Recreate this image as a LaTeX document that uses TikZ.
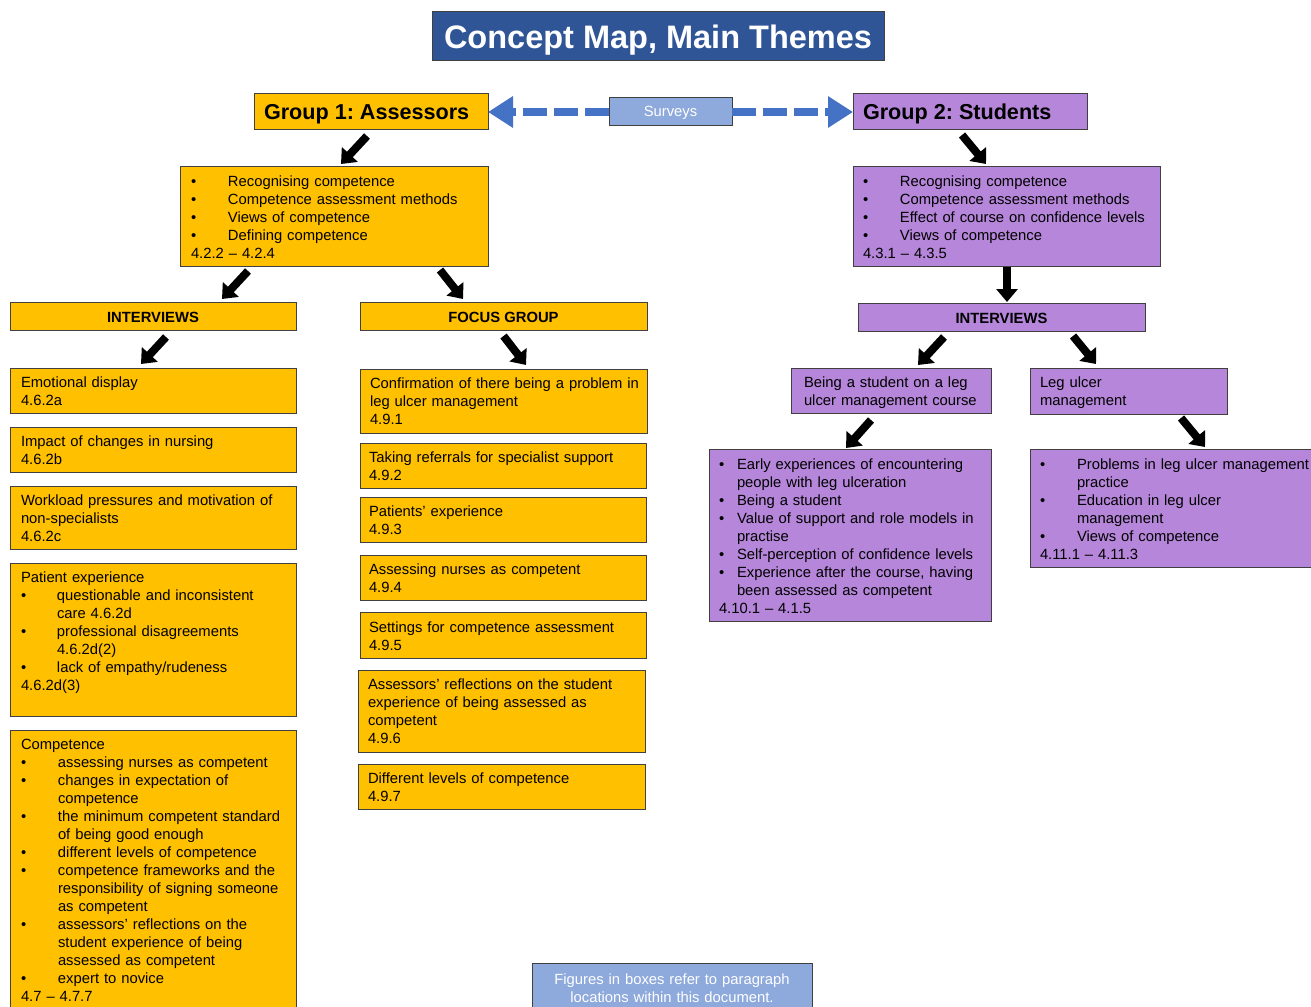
\documentclass[tikz,border=0pt]{standalone}
\usepackage{fontspec}
\setmainfont{Liberation Sans}
\usetikzlibrary{arrows.meta,calc}
\definecolor{gold}{HTML}{FFC000}
\definecolor{lilac}{HTML}{B586D9}
\definecolor{navy}{HTML}{2F5597}
\definecolor{sky}{HTML}{8EA9DB}
\definecolor{arrowblue}{HTML}{4472C4}
\definecolor{edgegray}{HTML}{404040}
\newcommand\bpt[1][37pt]{\makebox[#1][l]{•}}
\newcommand\ipt[1][37pt]{\hspace*{#1}}
\frenchspacing
\begin{document}
\frenchspacing
\begin{tikzpicture}[x=1pt,y=-1pt,
  box/.style={draw=edgegray, line width=1pt, anchor=north west, inner sep=0pt, outer sep=0pt},
  gbox/.style={box, fill=gold},
  pbox/.style={box, fill=lilac},
  bodyfont/.style={font={\fontsize{14.8pt}{18pt}\selectfont}},
  headfont/.style={font={\fontsize{21.6pt}{24pt}\selectfont\bfseries}},
  capfont/.style={font={\fontsize{14.8pt}{18pt}\selectfont\bfseries}},
  txt/.style={bodyfont, anchor=base west, inner sep=0pt, outer sep=0pt, text width=420pt, align=left},
  lbl/.style={inner sep=0pt, outer sep=0pt},
  barrow/.style={draw=black, line width=8pt, -{Triangle[length=13pt,width=21pt]}},
  dasharr/.style={draw=arrowblue, line width=8pt, dash pattern=on 24pt off 7pt, -{Triangle[length=25pt,width=30pt]}}
]
\useasboundingbox (0,0) rectangle (1311,1006);
\fill[white] (0,0) rectangle (1311,1006);

% title
\node[box, fill=navy, minimum width=452pt, minimum height=49pt] (title) at (432,12) {};
\node[lbl, anchor=base, text=white, font={\fontsize{32.5pt}{36pt}\selectfont\bfseries}] (titlet) at (658,49) {Concept Map, Main Themes};

% groups and surveys
\node[gbox, minimum width=234pt, minimum height=36pt] (g1) at (254,94) {};
\node[lbl, headfont, anchor=base west] (g1t) at (264,120) {Group 1: Assessors};
\node[pbox, minimum width=234pt, minimum height=36pt] (g2) at (853,94) {};
\node[lbl, headfont, anchor=base west] (g2t) at (863,120) {Group 2: Students};
\node[box, fill=sky, minimum width=123pt, minimum height=28pt] (sv) at (609,98) {};
\node[lbl, bodyfont, text=white, anchor=base] (svt) at (670.5,117) {Surveys};
\draw[dasharr] (sv.west) -- (g1.east);
\draw[dasharr] (sv.east) -- (g2.west);

% theme boxes
\node[gbox, minimum width=308pt, minimum height=100pt] (t1) at (180,166) {};
\node[txt] (t1t) at (191,186) {\bpt Recognising competence\\\bpt Competence assessment methods\\\bpt Views of competence\\\bpt Defining competence\\4.2.2 – 4.2.4};
\node[pbox, minimum width=307pt, minimum height=100pt] (t2) at (853,166) {};
\node[txt] (t2t) at (863,186) {\bpt Recognising competence\\\bpt Competence assessment methods\\\bpt Effect of course on confidence levels\\\bpt Views of competence\\4.3.1 – 4.3.5};

% method headers
\node[gbox, minimum width=286pt, minimum height=28pt] (int1) at (10,302) {};
\node[lbl, capfont, anchor=base] (int1t) at (153,322) {INTERVIEWS};
\node[gbox, minimum width=287pt, minimum height=28pt] (fg) at (360,302) {};
\node[lbl, capfont, anchor=base] (fgt) at (503.5,322) {FOCUS GROUP};
\node[pbox, minimum width=287pt, minimum height=28pt] (int2) at (858,303) {};
\node[lbl, capfont, anchor=base] (int2t) at (1001.5,323) {INTERVIEWS};

% left column
\node[gbox, minimum width=286pt, minimum height=45pt] (emo) at (10,368) {};
\node[txt] (emot) at (21,387) {Emotional display\\4.6.2a};
\node[gbox, minimum width=286pt, minimum height=45pt] (imp) at (10,427) {};
\node[txt] (impt) at (21,446) {Impact of changes in nursing\\4.6.2b};
\node[gbox, minimum width=286pt, minimum height=63pt] (work) at (10,486) {};
\node[txt] (workt) at (21,505) {Workload pressures and motivation of\\non-specialists\\4.6.2c};
\node[gbox, minimum width=286pt, minimum height=153pt] (pat) at (10,563) {};
\node[txt] (patt) at (21,582) {Patient experience\\\bpt[36pt]questionable and inconsistent\\\ipt[36pt]care 4.6.2d\\\bpt[36pt]professional disagreements\\\ipt[36pt]4.6.2d(2)\\\bpt[36pt]lack of empathy/rudeness\\4.6.2d(3)};
\node[gbox, minimum width=286pt, minimum height=300pt] (comp) at (10,730) {};
\node[txt] (compt) at (21,749) {Competence\\\bpt assessing nurses as competent\\\bpt changes in expectation of\\\ipt competence\\\bpt the minimum competent standard\\\ipt of being good enough\\\bpt different levels of competence\\\bpt competence frameworks and the\\\ipt responsibility of signing someone\\\ipt as competent\\\bpt assessors' reflections on the\\\ipt student experience of being\\\ipt assessed as competent\\\bpt expert to novice\\4.7 – 4.7.7};

% focus group column
\node[gbox, minimum width=287pt, minimum height=64pt] (conf) at (360,369) {};
\node[txt] (conft) at (370,388) {Confirmation of there being a problem in\\leg ulcer management\\4.9.1};
\node[gbox, minimum width=286pt, minimum height=45pt] (refr) at (360,443) {};
\node[txt] (refrt) at (369,462) {Taking referrals for specialist support\\4.9.2};
\node[gbox, minimum width=286pt, minimum height=45pt] (pexp) at (360,497) {};
\node[txt] (pexpt) at (369,516) {Patients' experience\\4.9.3};
\node[gbox, minimum width=286pt, minimum height=45pt] (anc) at (360,555) {};
\node[txt] (anct) at (369,574) {Assessing nurses as competent\\4.9.4};
\node[gbox, minimum width=286pt, minimum height=46pt] (sett) at (360,612) {};
\node[txt] (settt) at (369,632) {Settings for competence assessment\\4.9.5};
\node[gbox, minimum width=287pt, minimum height=82pt] (refl) at (358,670) {};
\node[txt] (reflt) at (368,689) {Assessors' reflections on the student\\experience of being assessed as\\competent\\4.9.6};
\node[gbox, minimum width=287pt, minimum height=45pt] (diff) at (358,764) {};
\node[txt] (difft) at (368,783) {Different levels of competence\\4.9.7};

% students column
\node[pbox, minimum width=200pt, minimum height=45pt] (being) at (791,368) {};
\node[txt] (beingt) at (804,387) {Being a student on a leg\\ulcer management course};
\node[pbox, minimum width=197pt, minimum height=46pt] (leg) at (1030,368) {};
\node[txt] (legt) at (1040,387) {Leg ulcer\\management};
\node[pbox, minimum width=282pt, minimum height=172pt] (early) at (709,449) {};
\node[txt] (earlyt) at (719,469) {\bpt[18pt]Early experiences of encountering\\\ipt[18pt]people with leg ulceration\\\bpt[18pt]Being a student\\\bpt[18pt]Value of support and role models in\\\ipt[18pt]practise\\\bpt[18pt]Self-perception of confidence levels\\\bpt[18pt]Experience after the course, having\\\ipt[18pt]been assessed as competent\\4.10.1 – 4.1.5};
\node[pbox, minimum width=290pt, minimum height=118pt] (prob) at (1030,449) {};
\node[txt] (probt) at (1040,469) {\bpt Problems in leg ulcer management\\\ipt practice\\\bpt Education in leg ulcer\\\ipt management\\\bpt Views of competence\\4.11.1 – 4.11.3};

% note
\node[box, fill=sky, minimum width=280pt, minimum height=60pt] (note) at (532,963) {};
\node[bodyfont, text=white, anchor=base, inner sep=0pt, text width=280pt, align=center] (notet) at (672,984) {Figures in boxes refer to paragraph\\locations within this document.};

% block arrows
\draw[barrow] ($(g1.south)+(-4,6)$) -- ($(t1.north)+(7,-2)$);
\draw[barrow] ($(t1.south west)+(68,5)$) -- ($(int1.north)+(69,-3)$);
\draw[barrow] ($(t1.south west)+(260,4)$) -- ($(fg.north)+(-40.5,-3)$);
\draw[barrow] ($(int1.south)+(13,7)$) -- ($(emo.north)+(-12,-4)$);
\draw[barrow] ($(fg.south)+(0,6)$) -- ($(conf.north)+(22.5,-4)$);
\draw[barrow] ($(g2.south)+(-8,5)$) -- ($(t2.north)+(-20.5,-2)$);
\draw[barrow] ($(t2.south)+(0.5,1)$) -- ($(int2.north)+(5.5,-1)$);
\draw[barrow] ($(int2.south)+(-57.5,6)$) -- ($(being.north)+(27,-3)$);
\draw[barrow] ($(int2.south)+(71.5,5)$) -- ($(leg.north)+(-32.5,-4)$);
\draw[barrow] ($(being.south)+(-20,7)$) -- ($(early.north)+(-4,-1)$);
\draw[barrow] ($(leg.south)+(52.5,4)$) -- ($(prob.north)+(30,-2)$);
\end{tikzpicture}
\end{document}
